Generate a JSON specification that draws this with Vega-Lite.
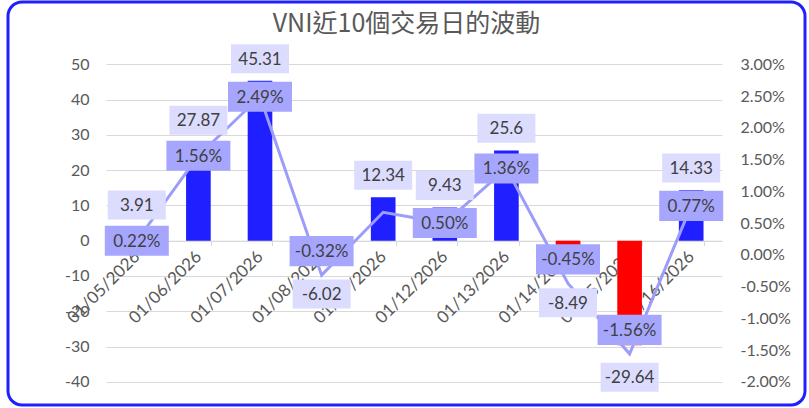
{
  "$schema": "https://vega.github.io/schema/vega-lite/v6.json",
  "autosize": {"type": "none"},
  "padding": {"left": 8, "top": 2, "right": 4, "bottom": 3},
  "width": 797,
  "height": 403,
  "background": "white",
  "config": {
    "view": {"stroke": "#1F1FFF", "strokeWidth": 3, "cornerRadius": 14, "fill": "white"},
    "text": {"font": "Lato", "fontSize": 17, "color": "#404040"},
    "locale": {"number": {"decimal": ".", "thousands": ",", "grouping": [3], "currency": ["$", ""], "minus": "-"}}
  },
  "title": {
    "text": "VNI近10個交易日的波動",
    "font": "Noto Sans CJK TC",
    "fontSize": 25,
    "fontWeight": "normal",
    "color": "#595959",
    "anchor": "middle",
    "frame": "group",
    "baseline": "alphabetic",
    "offset": -55
  },
  "data": {
    "values": [
      {"date": "01/05/2026", "change": 3.91, "pct": 0.0022, "pctText": "0.22%"},
      {"date": "01/06/2026", "change": 27.87, "pct": 0.0156, "pctText": "1.56%"},
      {"date": "01/07/2026", "change": 45.31, "pct": 0.0249, "pctText": "2.49%"},
      {"date": "01/08/2026", "change": -6.02, "pct": -0.0032, "pctText": "-0.32%"},
      {"date": "01/09/2026", "change": 12.34, "pct": 0.0067, "pctText": "0.67%"},
      {"date": "01/12/2026", "change": 9.43, "pct": 0.0050, "pctText": "0.50%"},
      {"date": "01/13/2026", "change": 25.6, "pct": 0.0136, "pctText": "1.36%"},
      {"date": "01/14/2026", "change": -8.49, "pct": -0.0045, "pctText": "-0.45%"},
      {"date": "01/15/2026", "change": -29.64, "pct": -0.0156, "pctText": "-1.56%"},
      {"date": "01/16/2026", "change": 14.33, "pct": 0.0077, "pctText": "0.77%"}
    ]
  },
  "encoding": {
    "x": {
      "field": "date",
      "type": "ordinal",
      "sort": null,
      "scale": {"type": "band", "range": [98, 714], "paddingInner": 0.6, "paddingOuter": 0.3},
      "axis": {
        "orient": "bottom",
        "offset": -164.3,
        "title": null,
        "grid": false,
        "labelAngle": -45,
        "labelAlign": "right",
        "labelBaseline": "middle",
        "labelFont": "Lato",
        "labelFontSize": 17,
        "labelColor": "#595959",
        "labelPadding": 8,
        "tickBand": "extent",
        "tickColor": "#D9D9D9",
        "tickSize": 5,
        "domainColor": "#D9D9D9",
        "domainWidth": 1
      }
    }
  },
  "layer": [
    {
      "mark": {"type": "bar"},
      "encoding": {
        "y": {
          "field": "change",
          "type": "quantitative",
          "scale": {"domain": [-40, 50], "range": [379.8, 62.3], "nice": false, "zero": false},
          "axis": {
            "orient": "left",
            "offset": -98,
            "values": [-40, -30, -20, -10, 0, 10, 20, 30, 40, 50],
            "title": null,
            "grid": true,
            "gridColor": "#D9D9D9",
            "gridWidth": 1,
            "domain": false,
            "ticks": false,
            "tickSize": 0,
            "labelPadding": 17,
            "labelFont": "Lato",
            "labelFontSize": 16,
            "labelColor": "#595959"
          }
        },
        "color": {"condition": {"test": "datum.change < 0", "value": "#FF0000"}, "value": "#1F1FFF"}
      }
    },
    {
      "mark": {"type": "line", "color": "#9C9CFA", "strokeWidth": 3},
      "encoding": {
        "y": {
          "field": "pct",
          "type": "quantitative",
          "scale": {"domain": [-0.02, 0.03], "range": [379.8, 62.3], "nice": false, "zero": false},
          "axis": {
            "orient": "right",
            "offset": -83,
            "values": [-0.02, -0.015, -0.01, -0.005, 0, 0.005, 0.01, 0.015, 0.02, 0.025, 0.03],
            "format": ".2%",
            "title": null,
            "grid": false,
            "domain": false,
            "ticks": false,
            "tickSize": 0,
            "labelPadding": 18,
            "labelFont": "Lato",
            "labelFontSize": 16,
            "labelColor": "#595959"
          }
        }
      }
    },
    {
      "transform": [{"filter": "datum.change > 0"}],
      "mark": {"type": "point", "filled": true, "opacity": 1, "color": "#DCDCFF", "size": 3364, "shape": "M-1,-1.259H1V-0.259H-1Z"},
      "encoding": {
        "y": {"field": "change", "type": "quantitative", "scale": {"domain": [-40, 50], "range": [379.8, 62.3], "nice": false, "zero": false}, "axis": null}
      }
    },
    {
      "transform": [{"filter": "datum.change > 0"}],
      "mark": {"type": "text", "dy": -21, "baseline": "middle"},
      "encoding": {
        "y": {"field": "change", "type": "quantitative", "scale": {"domain": [-40, 50], "range": [379.8, 62.3], "nice": false, "zero": false}, "axis": null},
        "text": {"field": "change", "type": "quantitative", "format": ".2~f"}
      }
    },
    {
      "transform": [{"filter": "datum.change < 0"}],
      "mark": {"type": "point", "filled": true, "opacity": 1, "color": "#DCDCFF", "size": 3364, "shape": "M-1,0.603H1V1.603H-1Z"},
      "encoding": {
        "y": {"field": "change", "type": "quantitative", "scale": {"domain": [-40, 50], "range": [379.8, 62.3], "nice": false, "zero": false}, "axis": null}
      }
    },
    {
      "transform": [{"filter": "datum.change < 0"}],
      "mark": {"type": "text", "dy": 33, "baseline": "middle"},
      "encoding": {
        "y": {"field": "change", "type": "quantitative", "scale": {"domain": [-40, 50], "range": [379.8, 62.3], "nice": false, "zero": false}, "axis": null},
        "text": {"field": "change", "type": "quantitative", "format": ".2~f"}
      }
    },
    {
      "transform": [{"filter": "datum.pct > 0 && datum.date != '01/09/2026'"}],
      "mark": {"type": "point", "filled": true, "opacity": 1, "color": "#A6A6FF", "size": 4096, "shape": "M-1,-0.47H1V0.47H-1Z"},
      "encoding": {
        "y": {"field": "pct", "type": "quantitative", "scale": {"domain": [-0.02, 0.03], "range": [379.8, 62.3], "nice": false, "zero": false}, "axis": null}
      }
    },
    {
      "transform": [{"filter": "datum.pct > 0 && datum.date != '01/09/2026'"}],
      "mark": {"type": "text", "dy": 1, "baseline": "middle"},
      "encoding": {
        "y": {"field": "pct", "type": "quantitative", "scale": {"domain": [-0.02, 0.03], "range": [379.8, 62.3], "nice": false, "zero": false}, "axis": null},
        "text": {"field": "pctText", "type": "nominal"}
      }
    },
    {
      "transform": [{"filter": "datum.pct < 0"}],
      "mark": {"type": "point", "filled": true, "opacity": 1, "color": "#A6A6FF", "size": 4096, "shape": "M-1,-1.22H1V-0.28H-1Z"},
      "encoding": {
        "y": {"field": "pct", "type": "quantitative", "scale": {"domain": [-0.02, 0.03], "range": [379.8, 62.3], "nice": false, "zero": false}, "axis": null}
      }
    },
    {
      "transform": [{"filter": "datum.pct < 0"}],
      "mark": {"type": "text", "dy": -23, "baseline": "middle"},
      "encoding": {
        "y": {"field": "pct", "type": "quantitative", "scale": {"domain": [-0.02, 0.03], "range": [379.8, 62.3], "nice": false, "zero": false}, "axis": null},
        "text": {"field": "pctText", "type": "nominal"}
      }
    }
  ],
  "resolve": {"scale": {"y": "independent"}, "axis": {"y": "independent"}}
}
